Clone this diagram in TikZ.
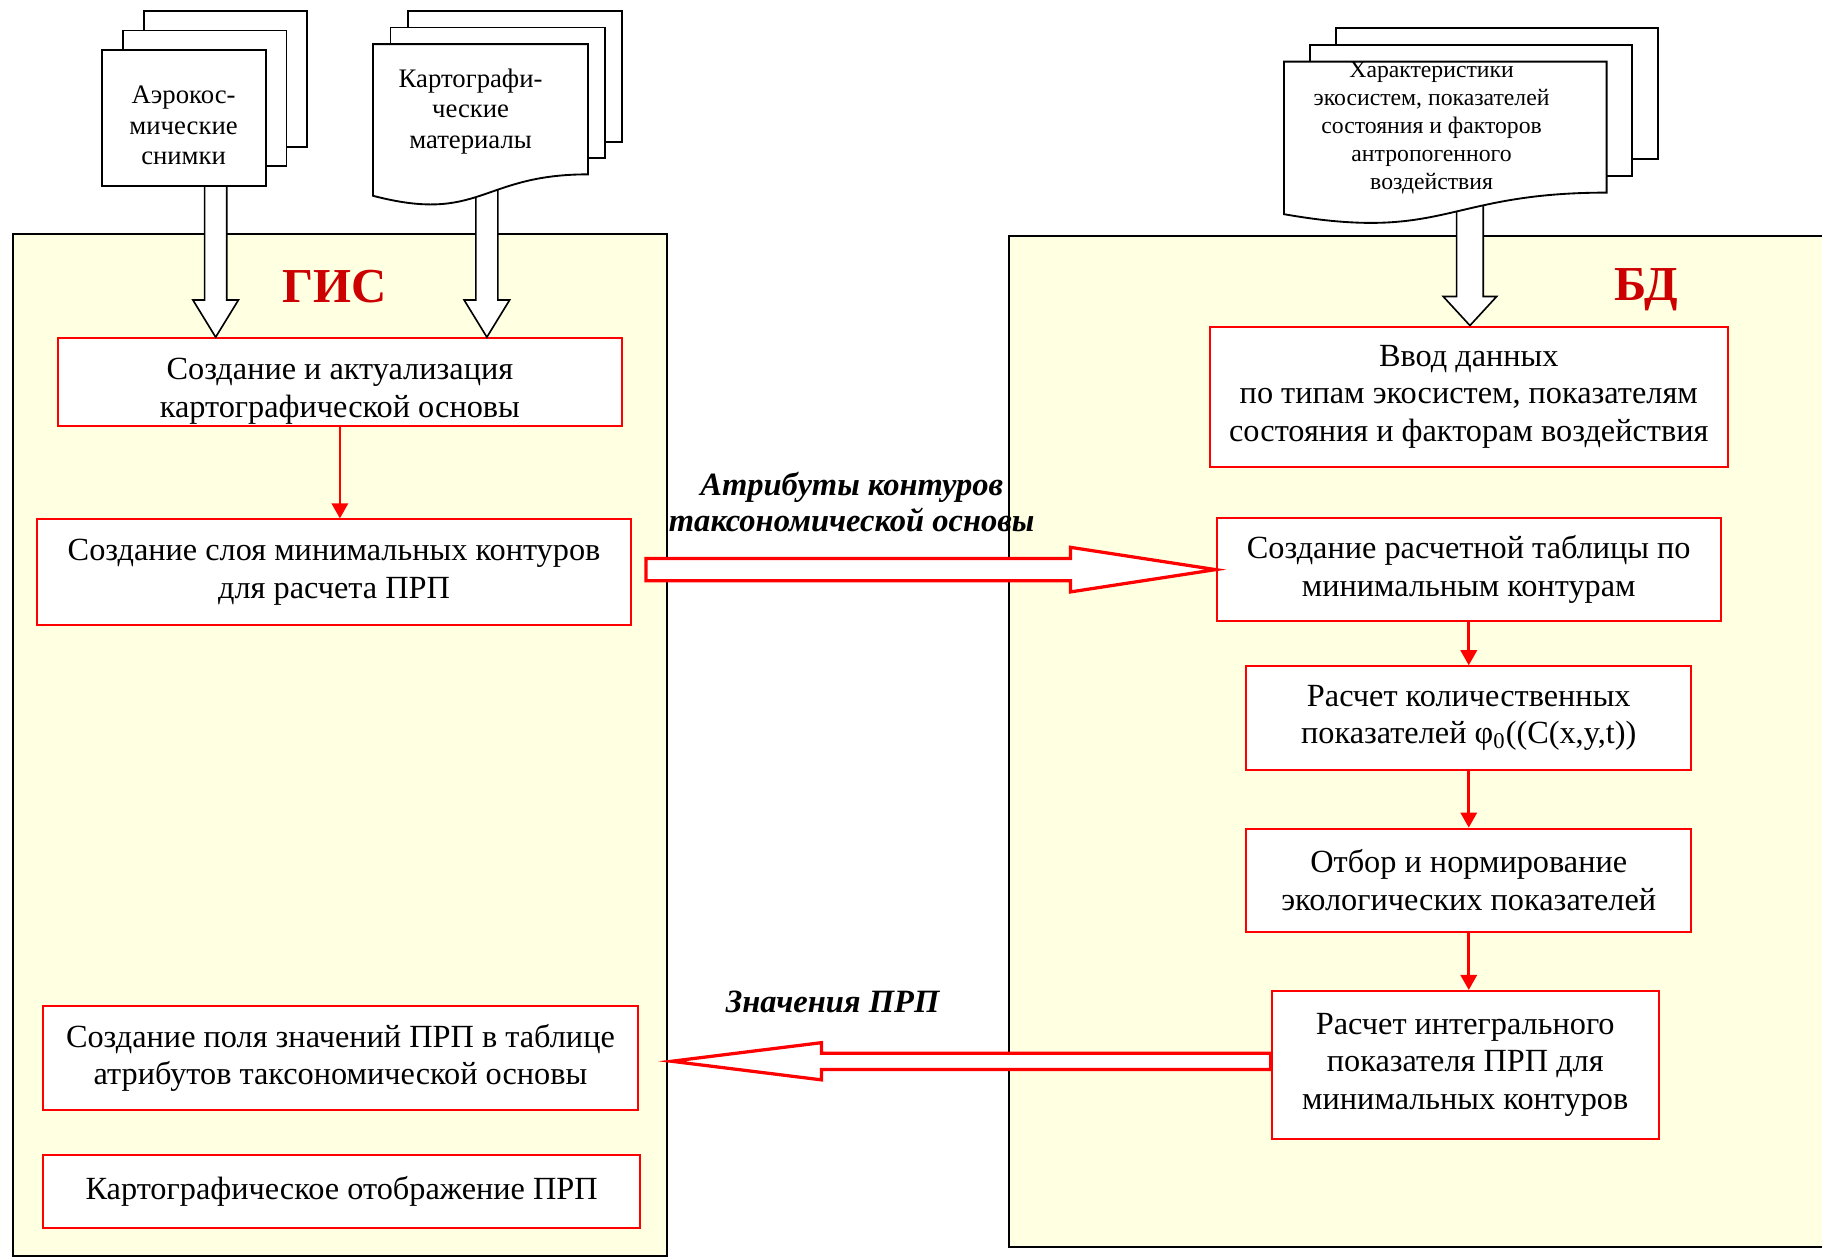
\documentclass[tikz,border=0pt]{standalone}
\usepackage{fontspec}
\setmainfont{Liberation Serif}
\usetikzlibrary{arrows.meta,positioning,fit,backgrounds,calc}
\definecolor{panelyellow}{RGB}{255,255,226}
\definecolor{titlered}{RGB}{204,0,0}

% document sheet with a wavy lower edge: left, top, width, height
\newcommand{\wavedoc}[4]{%
  \draw[sheet] (#1,#2) -- ({#1+#3},#2) -- ({#1+#3},{#2+0.802*#4})
    .. controls ({#1+0.5*#3},{#2+0.802*#4}) and ({#1+0.5*#3},{#2+1.1075*#4}) .. (#1,{#2+0.934*#4}) -- cycle;}

\begin{document}
\begin{tikzpicture}[x=0.5pt, y=-0.5pt, >=Stealth, font=\fontsize{13.9}{16.2}\selectfont,
    panel/.style={draw, line width=0.9pt, fill=panelyellow, inner sep=0pt},
    sheet/.style={draw, line width=0.8pt, fill=white},
    b/.style={draw=red, line width=0.85pt, fill=white, align=center, inner sep=0pt},
    doctxt/.style={align=center, inner sep=0pt, font=\fontsize{11.5}{13}\selectfont},
    ttl/.style={text=titlered, inner sep=0pt, font=\fontsize{21}{24}\selectfont\bfseries},
    lbl/.style={align=center, inner sep=0pt, font=\fontsize{14}{15.3}\selectfont\bfseries\itshape},
    flow/.style={draw=red, line width=1.15pt, -{Triangle[width=7pt,length=6.5pt]}},
    fat/.style={draw, line width=0.7pt, fill=white},
    redfat/.style={draw=red, line width=1.4pt, fill=white},
    vfat/.style n args={3}{to path={($(\tikztostart)+(-#1,0)$) -- ($(\tikztotarget)+(-#1,-#3)$)
      -- ($(\tikztotarget)+(-#2,-#3)$) -- (\tikztotarget) -- ($(\tikztotarget)+(#2,-#3)$)
      -- ($(\tikztotarget)+(#1,-#3)$) -- ($(\tikztostart)+(#1,0)$) -- cycle}},
    hfat/.style n args={3}{to path={($(\tikztostart)+(0,-#1)$) -- ($(\tikztotarget)+({-(#3)},-#1)$)
      -- ($(\tikztotarget)+({-(#3)},-#2)$) -- (\tikztotarget) -- ($(\tikztotarget)+({-(#3)},#2)$)
      -- ($(\tikztotarget)+({-(#3)},#1)$) -- ($(\tikztostart)+(0,#1)$) -- cycle}}]
  \useasboundingbox[fill=white] (0,0) rectangle (1568,1083);

  % two panels
  \node[panel, fit={(11,201) (574,1081)}] (gis) {};
  \node[panel, fit={(868,203) (1585,1073)}] (bd) {};
  \node[ttl] (gist) at (288,247) {ГИС};
  \node[ttl] (bdt) at (1417,249) {БД};

  % GIS side
  \node[b, minimum width=242.5pt, minimum height=38pt, text height=33pt] (upd) at (292.5,329) {Создание и актуализация\\картографической основы};
  \node[b, minimum width=255.5pt, minimum height=45.5pt] (layer) at (287.5,492.5) {Создание слоя минимальных контуров\\для расчета ПРП};
  \node[b, minimum width=256pt, minimum height=44.5pt] (field) at (293,910.5) {Создание поля значений ПРП в таблице\\атрибутов таксономической основы};
  \node[b, minimum width=257pt, minimum height=31.5pt] (kmap) at (294,1025.5) {Картографическое отображение ПРП};

  % DB side
  \node[b, minimum width=223pt, minimum height=60.5pt] (input) at (1264,341.5) {Ввод данных\\по типам экосистем, показателям\\состояния и факторам воздействия};
  \node[b, minimum width=217pt, minimum height=44.5pt, below=21pt of input] (ftab) {Создание расчетной таблицы по\\минимальным контурам};
  \node[b, minimum width=191.5pt, minimum height=44.5pt, below=18.5pt of ftab] (qcalc) {Расчет количественных\\показателей φ\textsubscript{0}((C(x,y,t))};
  \node[b, minimum width=191.5pt, minimum height=44.5pt, below=24.5pt of qcalc] (norm) {Отбор и нормирование\\экологических показателей};
  \node[b, minimum width=166.5pt, minimum height=63.5pt, below=24.5pt of norm, xshift=-1.5pt] (integ) {Расчет интегрального\\показателя ПРП для\\минимальных контуров};

  \draw[flow] (upd.south) -- (upd.south |- layer.north);
  \draw[flow] (ftab.south) -- (qcalc.north);
  \draw[flow] (qcalc.south) -- (norm.north);
  \draw[flow] (norm.south) -- (norm.south |- integ.north);

  % exchange between GIS and DB
  \draw[redfat, hfat={9.5}{19.2}{125}] ($(layer.east |- ftab.west)+(12,0)$) to (ftab.west);
  \draw[redfat, hfat={7}{16}{-129}] ($(integ.west)+(0,-3)$) to ($(gis.east |- integ.west)+(3,-3)$);
  \node[lbl] (attr) at (733,432) {Атрибуты контуров\\таксономической основы};
  \node[lbl] (vals) at (716.5,862) {Значения ПРП};

  % sources
  \coordinate (aerob) at (185.6,150);
  \coordinate (kartb) at (419,150);
  \coordinate (xarb) at (1265,160);
  \draw[fat, vfat={9.5}{19.6}{32}] (aerob) to (aerob |- upd.north);
  \draw[fat, vfat={9.5}{19.6}{32}] (kartb) to (kartb |- upd.north);
  \draw[fat, vfat={11.5}{23}{25}] (xarb) to (xarb |- input.north);

  \foreach \k in {2,1,0}
    \draw[sheet] ({88+18*\k},{43-16.8*\k}) rectangle ({229+17.5*\k},{160-16.8*\k});
  \foreach \k in {2,1}
    \draw[sheet] ({321+15*\k},{38-14.3*\k}) rectangle ({506+14.5*\k},{150-14*\k});
  \wavedoc{321}{38}{185}{139.7}
  \foreach \k in {2,1}
    \draw[sheet] ({1105+22.5*\k},{53-14.3*\k}) rectangle ({1382.6+22*\k},{165.8-14.4*\k});
  \wavedoc{1105}{53}{277.6}{140.6}

  \node[doctxt] (aero) at (158,108) {Аэрокос-\\мические\\снимки};
  \node[doctxt] (kart) at (405,96) {Картографи-\\ческие\\материалы};
  \node[doctxt, font=\fontsize{10.2}{12}\selectfont] (xar) at (1232,110) {Характеристики\\экосистем, показателей\\состояния и факторов\\антропогенного\\воздействия};
\end{tikzpicture}
\end{document}
